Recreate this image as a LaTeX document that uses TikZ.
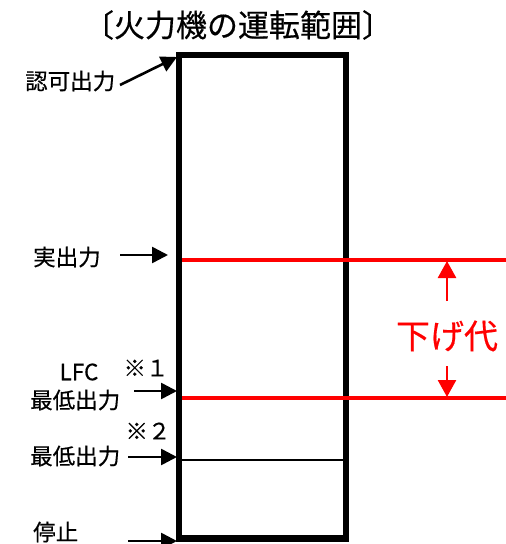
\documentclass[tikz,border=0pt]{standalone}
\usepackage{fontspec}
\setmainfont{Noto Sans CJK JP}[FakeBold=0.4]
\usetikzlibrary{arrows.meta}
\begin{document}
\begin{tikzpicture}[x=1pt,y=-1pt,
  lbl/.style={inner sep=0pt,font=\fontsize{22.5}{25}\selectfont},
  blk/.style={line width=2.6pt,-{Triangle[length=16pt,width=16pt]}},
  redarr/.style={red,line width=2.6pt,-{Triangle[length=17pt,width=18pt]}},
  redline/.style={red,line width=3.6pt}]
\useasboundingbox (0,0) rectangle (506,544);
% box
\draw[line width=6.5pt] (179,55) rectangle (346,538.5);
% lines
\coordinate (r1a) at (182,260); \coordinate (r1b) at (506,260);
\coordinate (r2a) at (182,398); \coordinate (r2b) at (506,398);
\coordinate (k1) at (182,460); \coordinate (k2) at (343,460);
\draw[redline] (r1a) -- (r1b);
\draw[redline] (r2a) -- (r2b);
\draw[line width=2.2pt] (k1) -- (k2);
% title
\node[inner sep=0pt,font=\fontsize{31}{34}\selectfont] (title) at (238,25) {〔火力機の運転範囲〕};
% labels
\node[lbl,anchor=west] (nin) at (25,81) {認可出力};
\node[lbl,anchor=west] (jitsu) at (33,257) {実出力};
\node[lbl] (lfc) at (79,372) {LFC};
\node[lbl] (k1n) at (146,368) {※１};
\node[lbl,anchor=west] (low1) at (30,400) {最低出力};
\node[lbl] (k2n) at (148,431) {※２};
\node[lbl,anchor=west] (low2) at (30,456) {最低出力};
\node[lbl,anchor=west] (stop) at (33,532) {停止};
\node[inner sep=0pt,text=red,font=\fontsize{34}{37}\selectfont] (sage) at (447,336) {下げ代};
% arrow coordinates
\coordinate (a1s) at (120,85); \coordinate (a1e) at (177,57);
\coordinate (a2s) at (120,255); \coordinate (a2e) at (168,255);
\coordinate (a3s) at (134,391); \coordinate (a3e) at (177,391);
\coordinate (a4s) at (128,457); \coordinate (a4e) at (177,457);
\coordinate (a5s) at (128,541); \coordinate (a5e) at (177,541);
\coordinate (u1) at (447,301); \coordinate (u2) at (447,261);
\coordinate (d1) at (447,366); \coordinate (d2) at (447,397);
\draw[blk] (a1s) -- (a1e);
\draw[blk] (a2s) -- (a2e);
\draw[blk] (a3s) -- (a3e);
\draw[blk] (a4s) -- (a4e);
\draw[blk] (a5s) -- (a5e);
\draw[redarr] (u1) -- (u2);
\draw[redarr] (d1) -- (d2);
\end{tikzpicture}
\end{document}
